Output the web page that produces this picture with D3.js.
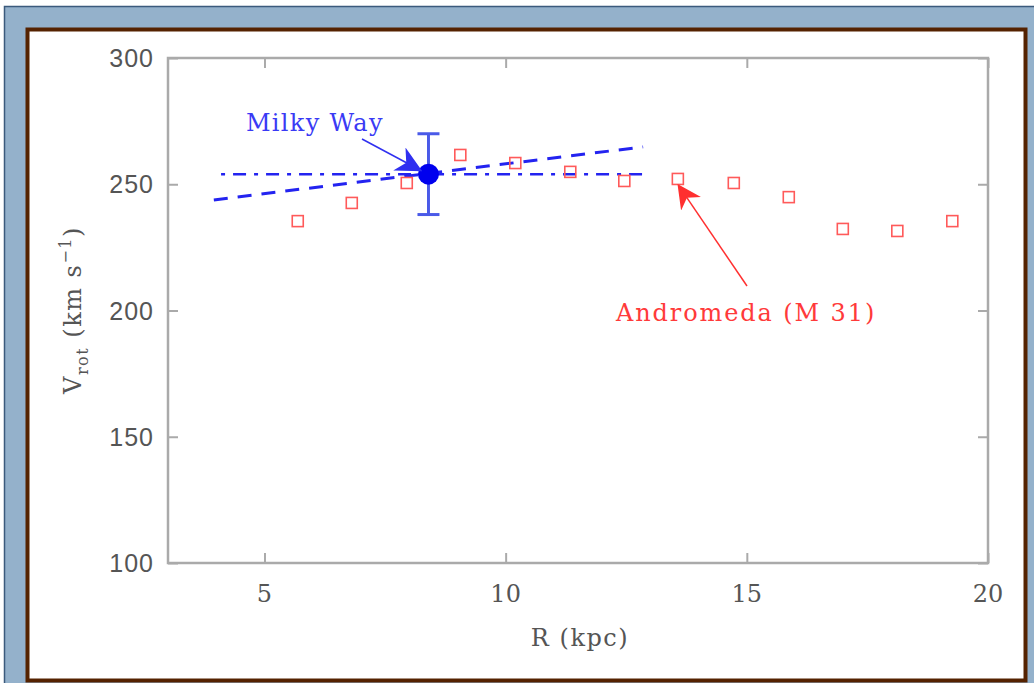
<!DOCTYPE html>
<html>
<head>
<meta charset="utf-8">
<script src="https://cdn.jsdelivr.net/npm/d3@7"></script>
<style>
  body { margin: 0; background: #fff; }
  svg { display: block; }
</style>
</head>
<body>
<script>
// Andromeda (M 31) rotation curve
let m31R = [5.69, 6.81, 7.95, 9.06, 10.2, 11.34, 12.46, 13.57, 14.73, 15.87, 16.99, 18.12, 19.26]
let m31V = [235.4, 242.6, 250.5, 261.6, 258.4, 254.9, 251.3, 252.1, 250.5, 244.9, 232.3, 231.5, 235.4]
// Milky Way point with error bar
let mwR = [8.4]
let mwV = [254]
let mwErr = [16]
// flat (dot-dash) and rising (dashed) curves
let flatR = [4.1, 12.85]
let flatV = [254, 254]
let riseR = [3.95, 12.85]
let riseV = [243.8, 264.8]
let xTicks = [5, 10, 15, 20]
let yTicks = [100, 150, 200, 250, 300]

let w = 1034, h = 683
let svg = d3.select("body").append("svg")
    .attr("width", w)
    .attr("height", h)

// page frame
svg.append("rect")
    .attr("x", 4.5).attr("y", 6.5)
    .attr("width", w).attr("height", h)
    .attr("fill", "#94b1cb")
    .attr("stroke", "#3b5a7c")
    .attr("stroke-width", 1.5)
svg.append("rect")
    .attr("x", 27.5).attr("y", 29.5)
    .attr("width", 998).attr("height", 651)
    .attr("fill", "#fff")
    .attr("stroke", "#552200")
    .attr("stroke-width", 4)

let pLeft = 168, pRight = 988, pTop = 58, pBottom = 563
let x = d3.scaleLinear().domain([3, 20]).range([pLeft, pRight])
let y = d3.scaleLinear().domain([100, 300]).range([pBottom, pTop])

let tickLen = 10
let axisColor = "#aaa"
function styleAxis(g) {
    g.select(".domain").remove()
    g.selectAll(".tick line").attr("stroke", axisColor).attr("stroke-width", 2)
    g.selectAll(".tick text").remove()
}
svg.append("g").attr("transform", `translate(0,${pBottom})`)
    .call(d3.axisBottom(x).tickValues(xTicks).tickSizeInner(-tickLen).tickSizeOuter(0)).call(styleAxis)
svg.append("g").attr("transform", `translate(0,${pTop})`)
    .call(d3.axisTop(x).tickValues(xTicks).tickSizeInner(-tickLen).tickSizeOuter(0)).call(styleAxis)
svg.append("g").attr("transform", `translate(${pLeft},0)`)
    .call(d3.axisLeft(y).tickValues(yTicks).tickSizeInner(-tickLen).tickSizeOuter(0)).call(styleAxis)
svg.append("g").attr("transform", `translate(${pRight},0)`)
    .call(d3.axisRight(y).tickValues(yTicks).tickSizeInner(-tickLen).tickSizeOuter(0)).call(styleAxis)

svg.append("rect")
    .attr("x", pLeft).attr("y", pTop)
    .attr("width", pRight - pLeft).attr("height", pBottom - pTop)
    .attr("fill", "none")
    .attr("stroke", axisColor)
    .attr("stroke-width", 2.5)

// tick labels
svg.selectAll(".ylab").data(yTicks).enter().append("text")
    .attr("x", pLeft - 14)
    .attr("y", d => y(d))
    .attr("dy", "0.36em")
    .attr("text-anchor", "end")
    .attr("font-family", "Liberation Sans, Arial, sans-serif")
    .attr("font-size", 25)
    .attr("letter-spacing", 1)
    .attr("fill", "#555")
    .text(d => d)
svg.selectAll(".xlab").data(xTicks).enter().append("text")
    .attr("x", d => x(d))
    .attr("y", pBottom + 39)
    .attr("text-anchor", "middle")
    .attr("font-family", "DejaVu Serif, serif")
    .attr("font-size", 24)
    .attr("fill", "#555")
    .text(d => d)

// axis titles
svg.append("text")
    .attr("x", (pLeft + pRight) / 2 + 2)
    .attr("y", 646)
    .attr("text-anchor", "middle")
    .attr("font-family", "DejaVu Serif, serif")
    .attr("font-size", 24)
    .attr("letter-spacing", 1.5)
    .attr("fill", "#555")
    .text("R (kpc)")
let yt = svg.append("text")
    .attr("transform", "translate(81,310) rotate(-90)")
    .attr("text-anchor", "middle")
    .attr("font-family", "DejaVu Serif, serif")
    .attr("font-size", 24)
    .attr("letter-spacing", 1.5)
    .attr("fill", "#555")
yt.append("tspan").text("V")
yt.append("tspan").attr("font-size", 16).attr("dy", 7).text("rot")
yt.append("tspan").attr("dy", -7).text(" (km s")
yt.append("tspan").attr("font-size", 16).attr("dy", -10).text("\u22121")
yt.append("tspan").attr("dy", 10).text(")")

// curves
let line = d3.line().x(d => x(d[0])).y(d => y(d[1]))
svg.append("path")
    .attr("d", line(d3.zip(flatR, flatV)))
    .attr("fill", "none")
    .attr("stroke", "#2323f0")
    .attr("stroke-width", 2.5)
    .attr("stroke-dasharray", "4,8,13,8")
svg.append("path")
    .attr("d", line(d3.zip(riseR, riseV)))
    .attr("fill", "none")
    .attr("stroke", "#2323f0")
    .attr("stroke-width", 3)
    .attr("stroke-dasharray", "14,10")

// Andromeda points
let sq = 11
svg.selectAll(".m31").data(d3.zip(m31R, m31V)).enter().append("rect")
    .attr("x", d => x(d[0]) - sq / 2)
    .attr("y", d => y(d[1]) - sq / 2)
    .attr("width", sq).attr("height", sq)
    .attr("fill", "none")
    .attr("stroke", "#ff5a5a")
    .attr("stroke-width", 1.6)

// Milky Way with error bar
let mw = d3.zip(mwR, mwV, mwErr)
let eb = svg.selectAll(".mw").data(mw).enter().append("g")
eb.append("line")
    .attr("x1", d => x(d[0])).attr("x2", d => x(d[0]))
    .attr("y1", d => y(d[1] + d[2])).attr("y2", d => y(d[1] - d[2]))
    .attr("stroke", "#4a5ae8").attr("stroke-width", 3)
eb.selectAll(".cap").data(d => [[d[0], d[1] + d[2]], [d[0], d[1] - d[2]]]).enter().append("line")
    .attr("x1", d => x(d[0]) - 11).attr("x2", d => x(d[0]) + 11)
    .attr("y1", d => y(d[1])).attr("y2", d => y(d[1]))
    .attr("stroke", "#4a5ae8").attr("stroke-width", 3)
eb.append("circle")
    .attr("cx", d => x(d[0])).attr("cy", d => y(d[1]))
    .attr("r", 10.5)
    .attr("fill", "#0000ee")

// arrows
let defs = svg.append("defs")
function marker(id, color, size) {
    defs.append("marker")
        .attr("id", id)
        .attr("viewBox", "0 0 10 10")
        .attr("refX", 9).attr("refY", 5)
        .attr("markerWidth", size).attr("markerHeight", size)
        .attr("markerUnits", "userSpaceOnUse")
        .attr("orient", "auto")
        .append("path")
        .attr("d", "M0,0 L10,5 L0,10 L3,5 Z")
        .attr("fill", color)
}
marker("ab", "#3030f0", 26)
marker("ar", "#ff3030", 24)

svg.append("line")
    .attr("x1", 362).attr("y1", 139)
    .attr("x2", 420).attr("y2", 170)
    .attr("stroke", "#3030f0").attr("stroke-width", 1.5)
    .attr("marker-end", "url(#ab)")
svg.append("line")
    .attr("x1", 747).attr("y1", 286)
    .attr("x2", x(m31R[7]) + 1).attr("y2", y(m31V[7]) + 7)
    .attr("stroke", "#ff3030").attr("stroke-width", 1.5)
    .attr("marker-end", "url(#ar)")

// labels
svg.append("text")
    .attr("x", 246).attr("y", 131)
    .attr("font-family", "DejaVu Serif, serif")
    .attr("font-size", 24)
    .attr("letter-spacing", 1.3)
    .attr("fill", "#3a3af5")
    .text("Milky Way")
svg.append("text")
    .attr("x", 616).attr("y", 321)
    .attr("font-family", "DejaVu Serif, serif")
    .attr("font-size", 24)
    .attr("letter-spacing", 1.9)
    .attr("fill", "#ff3a3a")
    .text("Andromeda (M 31)")
</script>
</body>
</html>
